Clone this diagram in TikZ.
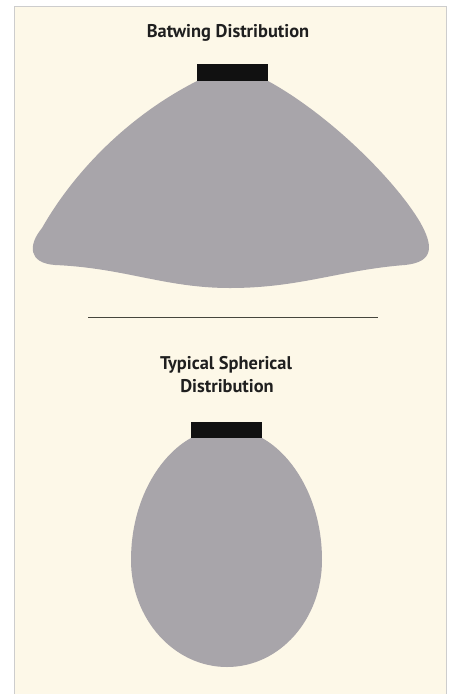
\documentclass[tikz,border=0pt]{standalone}
\usepackage{fontspec}
\setmainfont{PT Sans}
\definecolor{cream}{RGB}{253,248,232}
\definecolor{lobe}{RGB}{168,165,170}
\definecolor{panelline}{RGB}{205,205,205}
\definecolor{sepline}{RGB}{70,70,60}
\definecolor{fixture}{RGB}{17,17,17}
\begin{document}
\begin{tikzpicture}[x=1pt,y=-1pt,
  title/.style={font=\fontsize{18.4}{23}\selectfont\bfseries, text=black!88, align=center, inner sep=0pt, anchor=base},
  lobefill/.style={fill=lobe, draw=none},
  fixturebox/.style={fill=fixture, draw=none}]
\useasboundingbox (0,0) rectangle (451,694);
\fill[white] (0,0) rectangle (451,694);
\fill[cream] (14.5,6) rectangle (446,700);
\draw[panelline, line width=1pt] (14.5,700) -- (14.5,6) -- (446,6) -- (446,700);
% titles
\node[title] (t1) at (228,37) {Batwing Distribution};
\node[title] (t2) at (226,369) {Typical Spherical};
\node[title] (t3) at (227,392) {Distribution};
% batwing lobe
\path[lobefill] (197,81) -- (268,81)
  .. controls (330,115) and (395,180) .. (420,222)
  .. controls (433,245) and (435,262) .. (405,265)
  .. controls (340,270) and (300,288) .. (230,288)
  .. controls (165,288) and (125,268) .. (55,265)
  .. controls (28,263) and (28,245) .. (42,228)
  .. controls (75,170) and (130,115) .. (197,81) -- cycle;
\fill[fixturebox] (197,64) rectangle (268,81);
% separator
\coordinate (s1) at (88,317);
\coordinate (s2) at (378,317);
\draw[sepline, line width=1pt] (s1) -- (s2);
% spherical lobe
\path[lobefill] (191,438)
  .. controls (160,455) and (131,500) .. (131,560)
  .. controls (131,619) and (174,667) .. (227,667)
  .. controls (280,667) and (322,619) .. (322,560)
  .. controls (322,500) and (293,455) .. (262,438) -- cycle;
\fill[fixturebox] (191,422) rectangle (262,438);
\end{tikzpicture}
\end{document}
